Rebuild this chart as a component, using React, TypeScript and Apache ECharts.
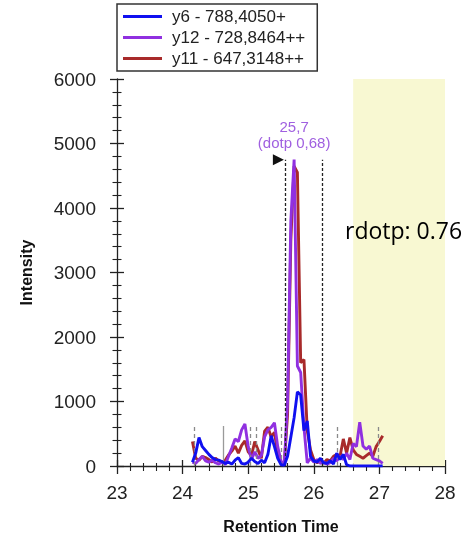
import React, { useEffect, useRef } from "react";
import * as echarts from "echarts";

// Retention times (min)
const times = [
  24.15, 24.2, 24.25, 24.3, 24.35, 24.4, 24.45, 24.5, 24.55, 24.6,
  24.65, 24.7, 24.75, 24.8, 24.85, 24.9, 24.95, 25.0, 25.05, 25.1,
  25.15, 25.2, 25.25, 25.3, 25.35, 25.4, 25.45, 25.5, 25.55, 25.6,
  25.65, 25.7, 25.75, 25.8, 25.85, 25.9, 25.95, 26.0, 26.05, 26.1,
  26.15, 26.2, 26.25, 26.3, 26.35, 26.4, 26.45, 26.5, 26.55, 26.6,
  26.65, 26.7, 26.75, 26.8, 26.85, 26.9, 26.95, 27.0, 27.05,
];
// y6 - 788,4050+
const y6 = [
  60, 200, 440, 300, 240, 180, 130, 100, 90, 70,
  40, 60, 30, 90, 130, 40, 30, 60, 120, 70,
  40, 90, 50, 180, 470, 300, 120, 20, 10, 150,
  450, 750, 1150, 1100, 550, 700, 150, 80, 60, 120,
  50, 40, 80, 30, 200, 100, 180, 20, 0, 0,
  0, 0, 0, 0, 0, 0, 0, 0, 0,
];
// y12 - 728,8464++
const y12 = [
  60, 40, 100, 150, 80, 60, 90, 50, 30, 60,
  20, 150, 280, 420, 380, 560, 650, 300, 100, 220,
  120, 160, 450, 560, 600, 670, 300, 80, 20, 1000,
  3800, 4750, 1550, 1450, 600, 50, 120, 60, 100, 40,
  60, 30, 50, 120, 80, 150, 100, 200, 100, 350,
  300, 680, 310, 260, 310, 120, 100, 80, 40,
];
// y11 - 647,3148++
const y11 = [
  380, 120, 90, 150, 130, 100, 60, 120, 80, 60,
  90, 170, 230, 310, 200, 320, 390, 220, 160, 380,
  250, 120, 540, 600, 450, 520, 200, 60, 20, 800,
  3500, 4650, 4550, 1600, 1650, 550, 250, 100, 50, 80,
  40, 100, 80, 150, 180, 150, 420, 200, 440, 250,
  180, 150, 120, 160, 200, 150, 300, 380, 470,
];

const seriesNames = ["y6 - 788,4050+", "y12 - 728,8464++", "y11 - 647,3148++"];
const seriesColors = ["#1010f0", "#9030e0", "#a82a2a"];

// Annotations
const peakLabel = "25,7\n(dotp 0,68)";
const peakStart = 25.56;
const peakEnd = 26.135;
const peakTop = 4750;
const otherBoundaries = [24.17, 25.03, 25.12, 25.51, 26.35, 26.99];
const otherBoundaryTop = 650;
const solidMarker = 24.62;
const solidMarkerTop = 620;
const bandStart = 26.6;
const bandEnd = 28;
const rdotpText = "rdotp: 0.76";

const FONT = "'Liberation Sans', Arial, sans-serif";

export default function App() {
  const ref = useRef<HTMLDivElement>(null);
  useEffect(() => {
    if (!ref.current) return;
    const chart = echarts.init(ref.current, undefined, { renderer: "svg" });
    const zip = (ys: number[]) => times.map((t, i) => [t, ys[i]]);
    const lineSeries = (name: string, ys: number[], color: string, z: number, extra: any = {}) => ({
      type: "line",
      name,
      data: zip(ys),
      showSymbol: false,
      symbol: "none",
      z,
      lineStyle: { color, width: 2.9 },
      itemStyle: { color },
      ...extra,
    });
    const tickAxisX = (inside: boolean, main: boolean) => ({
      type: "value",
      min: 23,
      max: 28,
      interval: 1,
      position: "bottom",
      axisLine: { show: main, onZero: false, lineStyle: { color: "#222", width: 1.3 } },
      axisTick: { show: true, inside, length: inside ? 6 : 8, lineStyle: { color: "#222", width: 1.3 } },
      minorTick: { show: true, splitNumber: 5, length: inside ? 3 : 5, lineStyle: { color: "#222", width: 1.1 } },
      splitLine: { show: false },
      axisLabel: main
        ? { show: true, fontSize: 19, color: "#222", fontFamily: FONT, margin: 17 }
        : { show: false },
      name: main ? "Retention Time" : "",
      nameLocation: "middle",
      nameGap: 52,
      nameTextStyle: { fontSize: 16, fontWeight: "bold", color: "#111", fontFamily: FONT },
    });
    const tickAxisY = (inside: boolean, main: boolean) => ({
      type: "value",
      min: 0,
      max: 6000,
      interval: 1000,
      position: "left",
      axisLine: { show: main, onZero: false, lineStyle: { color: "#222", width: 1.3 } },
      axisTick: { show: true, inside, length: 7, lineStyle: { color: "#222", width: 1.3 } },
      minorTick: { show: true, splitNumber: 5, length: 4.5, lineStyle: { color: "#222", width: 1.1 } },
      splitLine: { show: false },
      axisLabel: main
        ? {
            show: true,
            fontSize: 19,
            color: "#222",
            fontFamily: FONT,
            margin: 21,
            formatter: (v: number) => String(v),
          }
        : { show: false },
      name: main ? "Intensity" : "",
      nameLocation: "middle",
      nameGap: 83,
      nameTextStyle: { fontSize: 16, fontWeight: "bold", color: "#111", fontFamily: FONT },
    });

    const option: any = {
      animation: false,
      textStyle: { fontFamily: FONT },
      grid: { left: 117, right: 23, top: 79, bottom: 76 },
      legend: {
        data: seriesNames,
        orient: "vertical",
        left: 117,
        top: 4,
        icon: "rect",
        itemWidth: 39,
        itemHeight: 3,
        itemGap: 4,
        padding: [4, 12, 4, 6],
        borderColor: "#333",
        borderWidth: 1.5,
        textStyle: { fontSize: 17, color: "#222", fontFamily: FONT, padding: [0, 0, 0, 5] },
      },
      xAxis: [tickAxisX(false, true), tickAxisX(true, false)],
      yAxis: [tickAxisY(false, true), tickAxisY(true, false)],
      graphic: [
        {
          type: "text",
          x: 345,
          y: 230,
          z: 100,
          zlevel: 1,
          style: {
            text: rdotpText,
            fontSize: 23,
            fontFamily: "'Open Sans', sans-serif",
            fill: "#000",
            verticalAlign: "middle",
          },
        },
      ],
      series: [
        {
          type: "line",
          name: "_band",
          data: [],
          z: 1,
          silent: true,
          markArea: {
            silent: true,
            itemStyle: { color: "#f8f8d2" },
            data: [[{ xAxis: bandStart }, { xAxis: bandEnd }]],
          },
          markLine: {
            silent: true,
            symbol: ["none", "none"],
            label: { show: false },
            data: [
              ...otherBoundaries.map((t) => [
                { coord: [t, 0], lineStyle: { color: "#8a8a8a", type: [4, 3], width: 1.3 } },
                { coord: [t, otherBoundaryTop] },
              ]),
              [
                { coord: [solidMarker, 0], lineStyle: { color: "#9a9a9a", type: "solid", width: 1.3 } },
                { coord: [solidMarker, solidMarkerTop] },
              ],
              ...[peakStart, peakEnd].map((t) => [
                { coord: [t, 0], lineStyle: { color: "#222", type: [3, 2], width: 1.3 } },
                { coord: [t, peakTop] },
              ]),
            ],
          },
        },
        lineSeries(seriesNames[2], y11, seriesColors[2], 3),
        lineSeries(seriesNames[1], y12, seriesColors[1], 4, {
          markPoint: {
            silent: true,
            data: [
              {
                type: "max",
                symbolSize: 0,
                label: {
                  show: true,
                  position: "top",
                  distance: 9,
                  formatter: peakLabel,
                  color: "#a060e0",
                  fontSize: 15,
                  lineHeight: 16,
                  fontFamily: FONT,
                },
              },
              {
                coord: [peakStart - 0.1, peakTop],
                symbol: "triangle",
                symbolRotate: -90,
                symbolSize: [11, 11],
                itemStyle: { color: "#111" },
                label: { show: false },
              },
            ],
          },
        }),
        lineSeries(seriesNames[0], y6, seriesColors[0], 5),
      ],
    };
    chart.setOption(option);
    return () => chart.dispose();
  }, []);
  return (
    <div
      ref={ref}
      style={{ position: "fixed", left: 0, top: 0, width: 468, height: 542 }}
    />
  );
}
